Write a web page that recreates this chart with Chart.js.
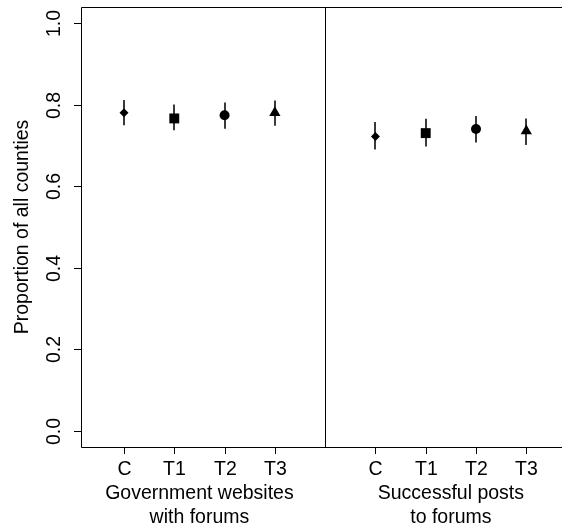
<!DOCTYPE html>
<html>
<head>
<meta charset="utf-8">
<script src="https://cdn.jsdelivr.net/npm/chart.js@4"></script>
<style>
  body { margin: 0; background: #fff; }
  #wrap { width: 562px; height: 531px; position: relative; }
</style>
</head>
<body>
<div id="wrap"><canvas id="chart"></canvas></div>
<script>
// categories and groups
const categories = ['C', 'T1', 'T2', 'T3'];
const groupLabels = [['Government websites', 'with forums'], ['Successful posts', 'to forums']];
const markers = ['rectRot', 'rect', 'circle', 'triangle'];
const markerSizes = [4.5, 7, 5, 6.5];

// Government websites with forums
const govEst = [0.780, 0.766, 0.774, 0.780];
const govLow = [0.749, 0.737, 0.741, 0.748];
const govHigh = [0.811, 0.800, 0.805, 0.810];

// Successful posts to forums
const postEst = [0.722, 0.730, 0.740, 0.735];
const postLow = [0.690, 0.697, 0.707, 0.701];
const postHigh = [0.757, 0.765, 0.772, 0.766];

const yTicks = [0.0, 0.2, 0.4, 0.6, 0.8, 1.0];
const yTickLabels = ['0.0', '0.2', '0.4', '0.6', '0.8', '1.0'];
const yTitle = 'Proportion of all counties';

const FONT = '"Liberation Sans", Arial, sans-serif';

// x position of each point: group 0 -> 1..4, group 1 -> 6..9
function xPos(g, i) { return g * 5 + i + 1; }

const groups = [
  { est: govEst, low: govLow, high: govHigh },
  { est: postEst, low: postLow, high: postHigh }
];

const datasets = groups.map((grp, g) => ({
  data: grp.est.map((v, i) => ({ x: xPos(g, i), y: v, lo: grp.low[i], hi: grp.high[i] })),
  pointStyle: markers,
  pointRadius: markerSizes,
  pointHoverRadius: markerSizes,
  backgroundColor: '#000',
  borderColor: '#000',
  borderWidth: 0,
  showLine: false
}));

const decor = {
  id: 'decor',
  beforeDatasetsDraw(chart) {
    const ctx = chart.ctx;
    const xs = chart.scales.x, ys = chart.scales.y;
    ctx.save();
    ctx.strokeStyle = '#3a3a3a';
    ctx.lineWidth = 2;
    chart.data.datasets.forEach(ds => {
      ds.data.forEach(p => {
        const x = Math.round(xs.getPixelForValue(p.x));
        ctx.beginPath();
        ctx.moveTo(x, ys.getPixelForValue(p.lo));
        ctx.lineTo(x, ys.getPixelForValue(p.hi));
        ctx.stroke();
      });
    });
    ctx.restore();
  },
  afterDraw(chart) {
    const ctx = chart.ctx;
    const a = chart.chartArea;
    const xs = chart.scales.x, ys = chart.scales.y;
    ctx.save();
    ctx.strokeStyle = '#000';
    ctx.lineWidth = 1;
    // box (right edge falls outside)
    ctx.beginPath();
    ctx.moveTo(a.right + 10, a.top + 0.5);
    ctx.lineTo(a.left + 0.5, a.top + 0.5);
    ctx.lineTo(a.left + 0.5, a.bottom + 0.5);
    ctx.lineTo(a.right + 10, a.bottom + 0.5);
    const xd = Math.round(xs.getPixelForValue(5)) + 0.5;
    ctx.moveTo(xd, a.top);
    ctx.lineTo(xd, a.bottom);
    ctx.stroke();

    ctx.fillStyle = '#000';
    ctx.font = '19.5px ' + FONT;
    // y ticks, rotated labels
    yTicks.forEach((v, i) => {
      const y = Math.round(ys.getPixelForValue(v)) + 0.5;
      ctx.beginPath();
      ctx.moveTo(a.left, y);
      ctx.lineTo(a.left - 7, y);
      ctx.stroke();
      ctx.save();
      ctx.translate(a.left - 26, y);
      ctx.rotate(-Math.PI / 2);
      ctx.textAlign = 'center';
      ctx.textBaseline = 'middle';
      ctx.fillText(yTickLabels[i], 0, 0);
      ctx.restore();
    });
    // y title
    ctx.save();
    ctx.translate(23, (a.top + a.bottom) / 2);
    ctx.rotate(-Math.PI / 2);
    ctx.textAlign = 'center';
    ctx.textBaseline = 'middle';
    ctx.fillText(yTitle, 0, 0);
    ctx.restore();

    // x ticks and labels
    ctx.textAlign = 'center';
    ctx.textBaseline = 'middle';
    groupLabels.forEach((lines, g) => {
      categories.forEach((c, i) => {
        const x = Math.round(xs.getPixelForValue(xPos(g, i))) + 0.5;
        ctx.beginPath();
        ctx.moveTo(x, a.bottom);
        ctx.lineTo(x, a.bottom + 7);
        ctx.stroke();
        ctx.fillText(c, x, a.bottom + 23);
      });
      const xm = (xs.getPixelForValue(xPos(g, 0)) + xs.getPixelForValue(xPos(g, 3))) / 2;
      lines.forEach((t, k) => ctx.fillText(t, xm, a.bottom + 47 + k * 24));
    });
    ctx.restore();
  }
};

new Chart(document.getElementById('chart'), {
  type: 'scatter',
  data: { datasets: datasets },
  options: {
    responsive: true,
    maintainAspectRatio: false,
    animation: false,
    layout: { autoPadding: false, padding: { left: 81, top: 7, right: 0, bottom: 84 } },
    scales: {
      x: { type: 'linear', min: 0.145, max: 9.71, display: false },
      y: { type: 'linear', min: -0.039, max: 1.039, display: false }
    },
    plugins: { legend: { display: false }, tooltip: { enabled: false } }
  },
  plugins: [decor]
});
</script>
</body>
</html>
